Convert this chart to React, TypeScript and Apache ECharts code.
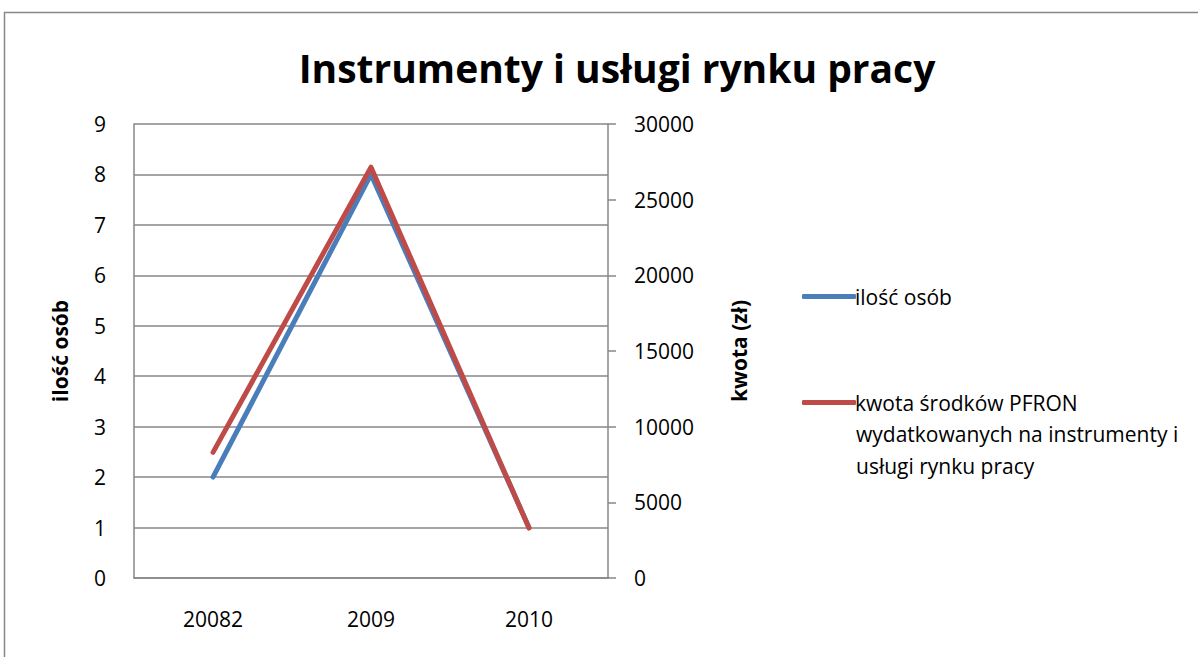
import React, { useEffect, useRef } from "react";
import * as echarts from "echarts";

const categories = ["20082", "2009", "2010"];
const personsName = "ilość osób";
const amountName = "kwota środków PFRON wydatkowanych na instrumenty i usługi rynku pracy";
const persons = [2, 8, 1];
const amounts = [8300, 27150, 3300];
const leftTicks = { min: 0, max: 9, interval: 1 };
const rightTicks = { min: 0, max: 30000, interval: 5000 };

const FONT = "'Open Sans', sans-serif";
const GRID_COLOR = "#878787";

export default function App() {
  const ref = useRef<HTMLDivElement>(null);
  useEffect(() => {
    if (!ref.current) return;
    const chart = echarts.init(ref.current, undefined, { renderer: "svg" });
    chart.setOption({
      animation: false,
      backgroundColor: "#ffffff",
      title: {
        text: "Instrumenty i usługi rynku pracy",
        left: 612,
        top: 43,
        textAlign: "center",
        textStyle: { fontFamily: FONT, fontWeight: "bold", fontSize: 39, color: "#000" },
      },
      graphic: [
        {
          type: "rect",
          shape: { x: 4.5, y: 12.5, width: 1300, height: 800 },
          style: { fill: "none", stroke: GRID_COLOR, lineWidth: 1.5 },
          silent: true,
        },
        {
          type: "text",
          left: 856,
          top: 418,
          style: {
            text: "wydatkowanych na instrumenty i\nusługi rynku pracy",
            font: `21px ${FONT}`,
            fill: "#000",
            lineHeight: 32,
          },
        },
      ],
      legend: [
        {
          data: [personsName],
          left: 797,
          top: 281,
          icon: "roundRect",
          itemWidth: 54,
          itemHeight: 5,
          itemGap: 4,
          textStyle: { fontFamily: FONT, fontSize: 21, color: "#000", padding: [0, 0, 0, -6] },
        },
        {
          data: [amountName],
          left: 797,
          top: 387,
          icon: "roundRect",
          itemWidth: 54,
          itemHeight: 5,
          formatter: () => "kwota środków PFRON",
          textStyle: { fontFamily: FONT, fontSize: 21, color: "#000", padding: [0, 0, 0, -6] },
        },
      ],
      grid: { left: 134, top: 124, width: 474, height: 454, containLabel: false },
      xAxis: {
        type: "category",
        data: categories,
        boundaryGap: true,
        axisLine: { show: true, lineStyle: { color: GRID_COLOR, width: 1.5 } },
        axisTick: { show: false },
        axisLabel: { fontFamily: FONT, fontSize: 21, color: "#000", margin: 30 },
      },
      yAxis: [
        {
          type: "value",
          ...leftTicks,
          position: "left",
          name: "ilość osób",
          nameLocation: "middle",
          nameGap: 64,
          nameTextStyle: { fontFamily: FONT, fontWeight: "bold", fontSize: 21, color: "#000" },
          axisLine: { show: true, lineStyle: { color: GRID_COLOR, width: 1.5 } },
          axisTick: { show: false },
          splitLine: { show: true, lineStyle: { color: GRID_COLOR, width: 1.5 } },
          axisLabel: { fontFamily: FONT, fontSize: 21, color: "#000", margin: 28 },
        },
        {
          type: "value",
          ...rightTicks,
          position: "right",
          name: "kwota (zł)",
          nameLocation: "middle",
          nameGap: 120,
          nameTextStyle: { fontFamily: FONT, fontWeight: "bold", fontSize: 21, color: "#000" },
          axisLine: { show: true, lineStyle: { color: GRID_COLOR, width: 1.5 } },
          axisTick: { show: true, length: 8, inside: false, lineStyle: { color: GRID_COLOR, width: 1.5 } },
          splitLine: { show: false },
          axisLabel: {
            fontFamily: FONT,
            fontSize: 21,
            color: "#000",
            margin: 26,
            formatter: (v: number) => String(v),
          },
        },
      ],
      series: [
        {
          name: personsName,
          type: "line",
          yAxisIndex: 0,
          data: persons,
          symbol: "none",
          lineStyle: { color: "#4A7EBB", width: 5, cap: "round", join: "round" },
          itemStyle: { color: "#4A7EBB" },
        },
        {
          name: amountName,
          type: "line",
          yAxisIndex: 1,
          data: amounts,
          symbol: "none",
          lineStyle: { color: "#BE4B48", width: 5, cap: "round", join: "round" },
          itemStyle: { color: "#BE4B48" },
        },
      ],
    });
    return () => chart.dispose();
  }, []);
  return (
    <div
      ref={ref}
      style={{ position: "absolute", left: 0, top: 0, width: 1198, height: 657 }}
    />
  );
}
